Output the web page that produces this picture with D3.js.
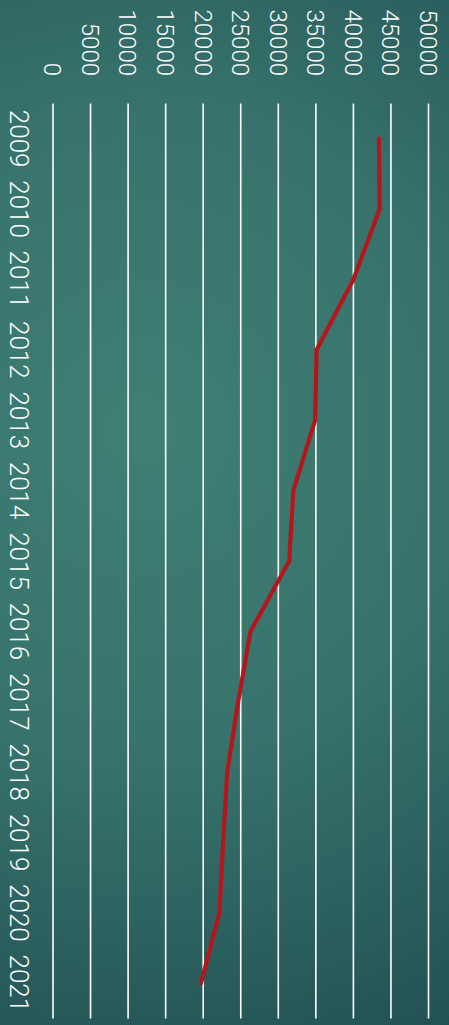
<!DOCTYPE html>
<html>
<head>
<meta charset="utf-8">
<script src="https://cdn.jsdelivr.net/npm/d3@7"></script>
<style>
  html, body { margin: 0; padding: 0; background: #2f6a65; }
  svg { display: block; }
  text { font-family: Roboto, "Open Sans", sans-serif; font-weight: 300; fill: #ffffff; }
</style>
</head>
<body>
<div id="chart"></div>
<script>
const years = ["2009","2010","2011","2012","2013","2014","2015","2016","2017","2018","2019","2020","2021"];
const values = [43400, 43500, 40000, 35100, 34900, 32000, 31450, 26300, 24650, 23200, 22650, 22150, 19700];
const valueTicks = [0, 5000, 10000, 15000, 20000, 25000, 30000, 35000, 40000, 45000, 50000];

const W = 449, H = 1025;
const svg = d3.select("#chart").append("svg").attr("width", W).attr("height", H);

// background gradient
const defs = svg.append("defs");
const rg = defs.append("radialGradient").attr("id", "bg")
  .attr("gradientUnits", "userSpaceOnUse")
  .attr("cx", 140).attr("cy", 430).attr("r", 720);
rg.append("stop").attr("offset", "0%").attr("stop-color", "#3f7f74");
rg.append("stop").attr("offset", "45%").attr("stop-color", "#37736c");
rg.append("stop").attr("offset", "100%").attr("stop-color", "#1f4c50");
svg.append("rect").attr("width", W).attr("height", H).attr("fill", "url(#bg)");

// scales (chart rotated 90deg clockwise: categories run top->bottom, values left->right)
const y = d3.scaleBand().domain(years).range([103.5, 1018.5]).paddingInner(0).paddingOuter(0);
const x = d3.scaleLinear().domain([0, 50000]).range([53, 428.5]);

// gridlines
svg.append("g").selectAll("line").data(valueTicks).join("line")
  .attr("x1", d => x(d)).attr("x2", d => x(d))
  .attr("y1", y.range()[0]).attr("y2", y.range()[1])
  .attr("stroke", "#ffffff").attr("stroke-width", 1.6);

// value tick labels (rotated)
svg.append("g").selectAll("text").data(valueTicks).join("text")
  .attr("transform", d => `translate(${x(d)},76) rotate(90)`)
  .attr("text-anchor", "end")
  .attr("dy", "0.36em")
  .style("font-size", "24px")
  .text(d => d);

// category labels (rotated)
svg.append("g").selectAll("text").data(years).join("text")
  .attr("transform", d => `translate(10,${y(d) + y.bandwidth() / 2}) rotate(90)`)
  .attr("text-anchor", "middle")
  .style("font-size", "26px")
  .text(d => d);

// line
const pts = years.map((yr, i) => [yr, values[i]]);
const line = d3.line()
  .x(d => x(d[1]))
  .y(d => y(d[0]) + y.bandwidth() / 2);
svg.append("path").datum(pts)
  .attr("d", line)
  .attr("fill", "none")
  .attr("stroke", "#b3171b")
  .attr("stroke-width", 4.2)
  .attr("stroke-linejoin", "round")
  .attr("stroke-linecap", "round");
</script>
</body>
</html>
